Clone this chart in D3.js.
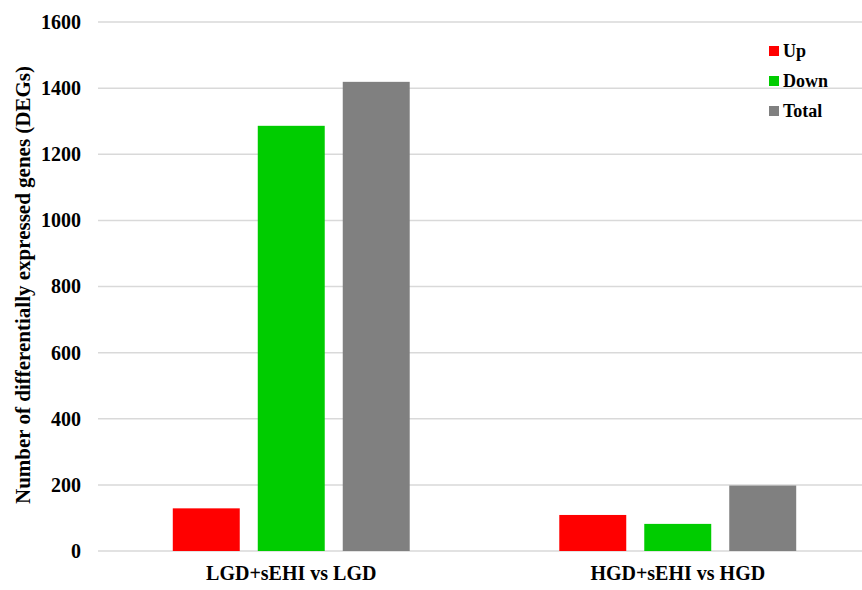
<!DOCTYPE html>
<html>
<head>
<meta charset="utf-8">
<script src="https://cdn.jsdelivr.net/npm/d3@7"></script>
<style>
  html, body { margin: 0; padding: 0; background: #fff; }
  svg { display: block; }
  text { font-family: "Liberation Serif", "Times New Roman", serif; font-weight: bold; fill: #000; }
</style>
</head>
<body>
<svg id="chart" width="862" height="590"></svg>
<script>
const categories = ["LGD+sEHI vs LGD", "HGD+sEHI vs HGD"];
const seriesNames = ["Up", "Down", "Total"];
const upValues = [129, 109];
const downValues = [1286, 82];
const totalValues = [1419, 198];
const yTicks = [0, 200, 400, 600, 800, 1000, 1200, 1400, 1600];
const colors = ["#ff0000", "#00cc00", "#808080"];

(function () {
const seriesValues = [upValues, downValues, totalValues];
const svg = d3.select("#chart");
const mLeft = 98, mRight = 871, mTop = 22, mBottom = 551;

const x0 = d3.scaleBand().domain(categories).range([mLeft, mRight]).padding(0);
const x1 = d3.scaleBand().domain(seriesNames).range([0, x0.bandwidth()])
  .paddingInner(0.212).paddingOuter(0.88);
const y = d3.scaleLinear().domain([0, 1600]).range([mBottom, mTop]);

// gridlines
svg.append("g").selectAll("line").data(yTicks).join("line")
  .attr("x1", mLeft).attr("x2", 862)
  .attr("y1", d => y(d)).attr("y2", d => y(d))
  .attr("stroke", "#d9d9d9").attr("stroke-width", 1.5);

// y axis labels
const yAxis = d3.axisLeft(y).tickValues(yTicks).tickFormat(d3.format("d")).tickSize(0).tickPadding(0);
const gy = svg.append("g").attr("transform", `translate(81,0)`).call(yAxis);
gy.select(".domain").remove();
gy.selectAll("text").style("font-size", "20px").style("font-family", "Liberation Serif, serif")
  .style("font-weight", "bold").attr("fill", "#000");

// bars
const groups = svg.append("g").selectAll("g").data(categories).join("g")
  .attr("transform", d => `translate(${x0(d)},0)`);
groups.selectAll("rect")
  .data((d, i) => seriesNames.map((s, j) => ({ s, j, v: seriesValues[j][i] })))
  .join("rect")
  .attr("x", d => x1(d.s))
  .attr("width", x1.bandwidth())
  .attr("y", d => y(d.v))
  .attr("height", d => y(0) - y(d.v))
  .attr("fill", d => colors[d.j]);

// x axis labels
const xAxis = d3.axisBottom(x0).tickSize(0).tickPadding(0);
const gx = svg.append("g").attr("transform", `translate(0,566)`).call(xAxis);
gx.select(".domain").remove();
gx.selectAll("text").style("font-size", "20px").style("font-family", "Liberation Serif, serif")
  .style("font-weight", "bold").attr("fill", "#000").attr("dy", "0.71em");

// y title
svg.append("text")
  .attr("transform", `translate(30,285) rotate(-90)`)
  .attr("text-anchor", "middle")
  .style("font-size", "21px")
  .text("Number of differentially expressed genes (DEGs)");

// legend
const legend = svg.append("g").selectAll("g").data(seriesNames).join("g")
  .attr("transform", (d, i) => `translate(769,${51 + i * 30})`);
legend.append("rect").attr("x", 0).attr("y", -5).attr("width", 10).attr("height", 10)
  .attr("fill", (d, i) => colors[i]);
legend.append("text").attr("x", 14).attr("y", 0).attr("dy", "0.35em")
  .style("font-size", "18px").text(d => d);
})();
</script>
</body>
</html>
